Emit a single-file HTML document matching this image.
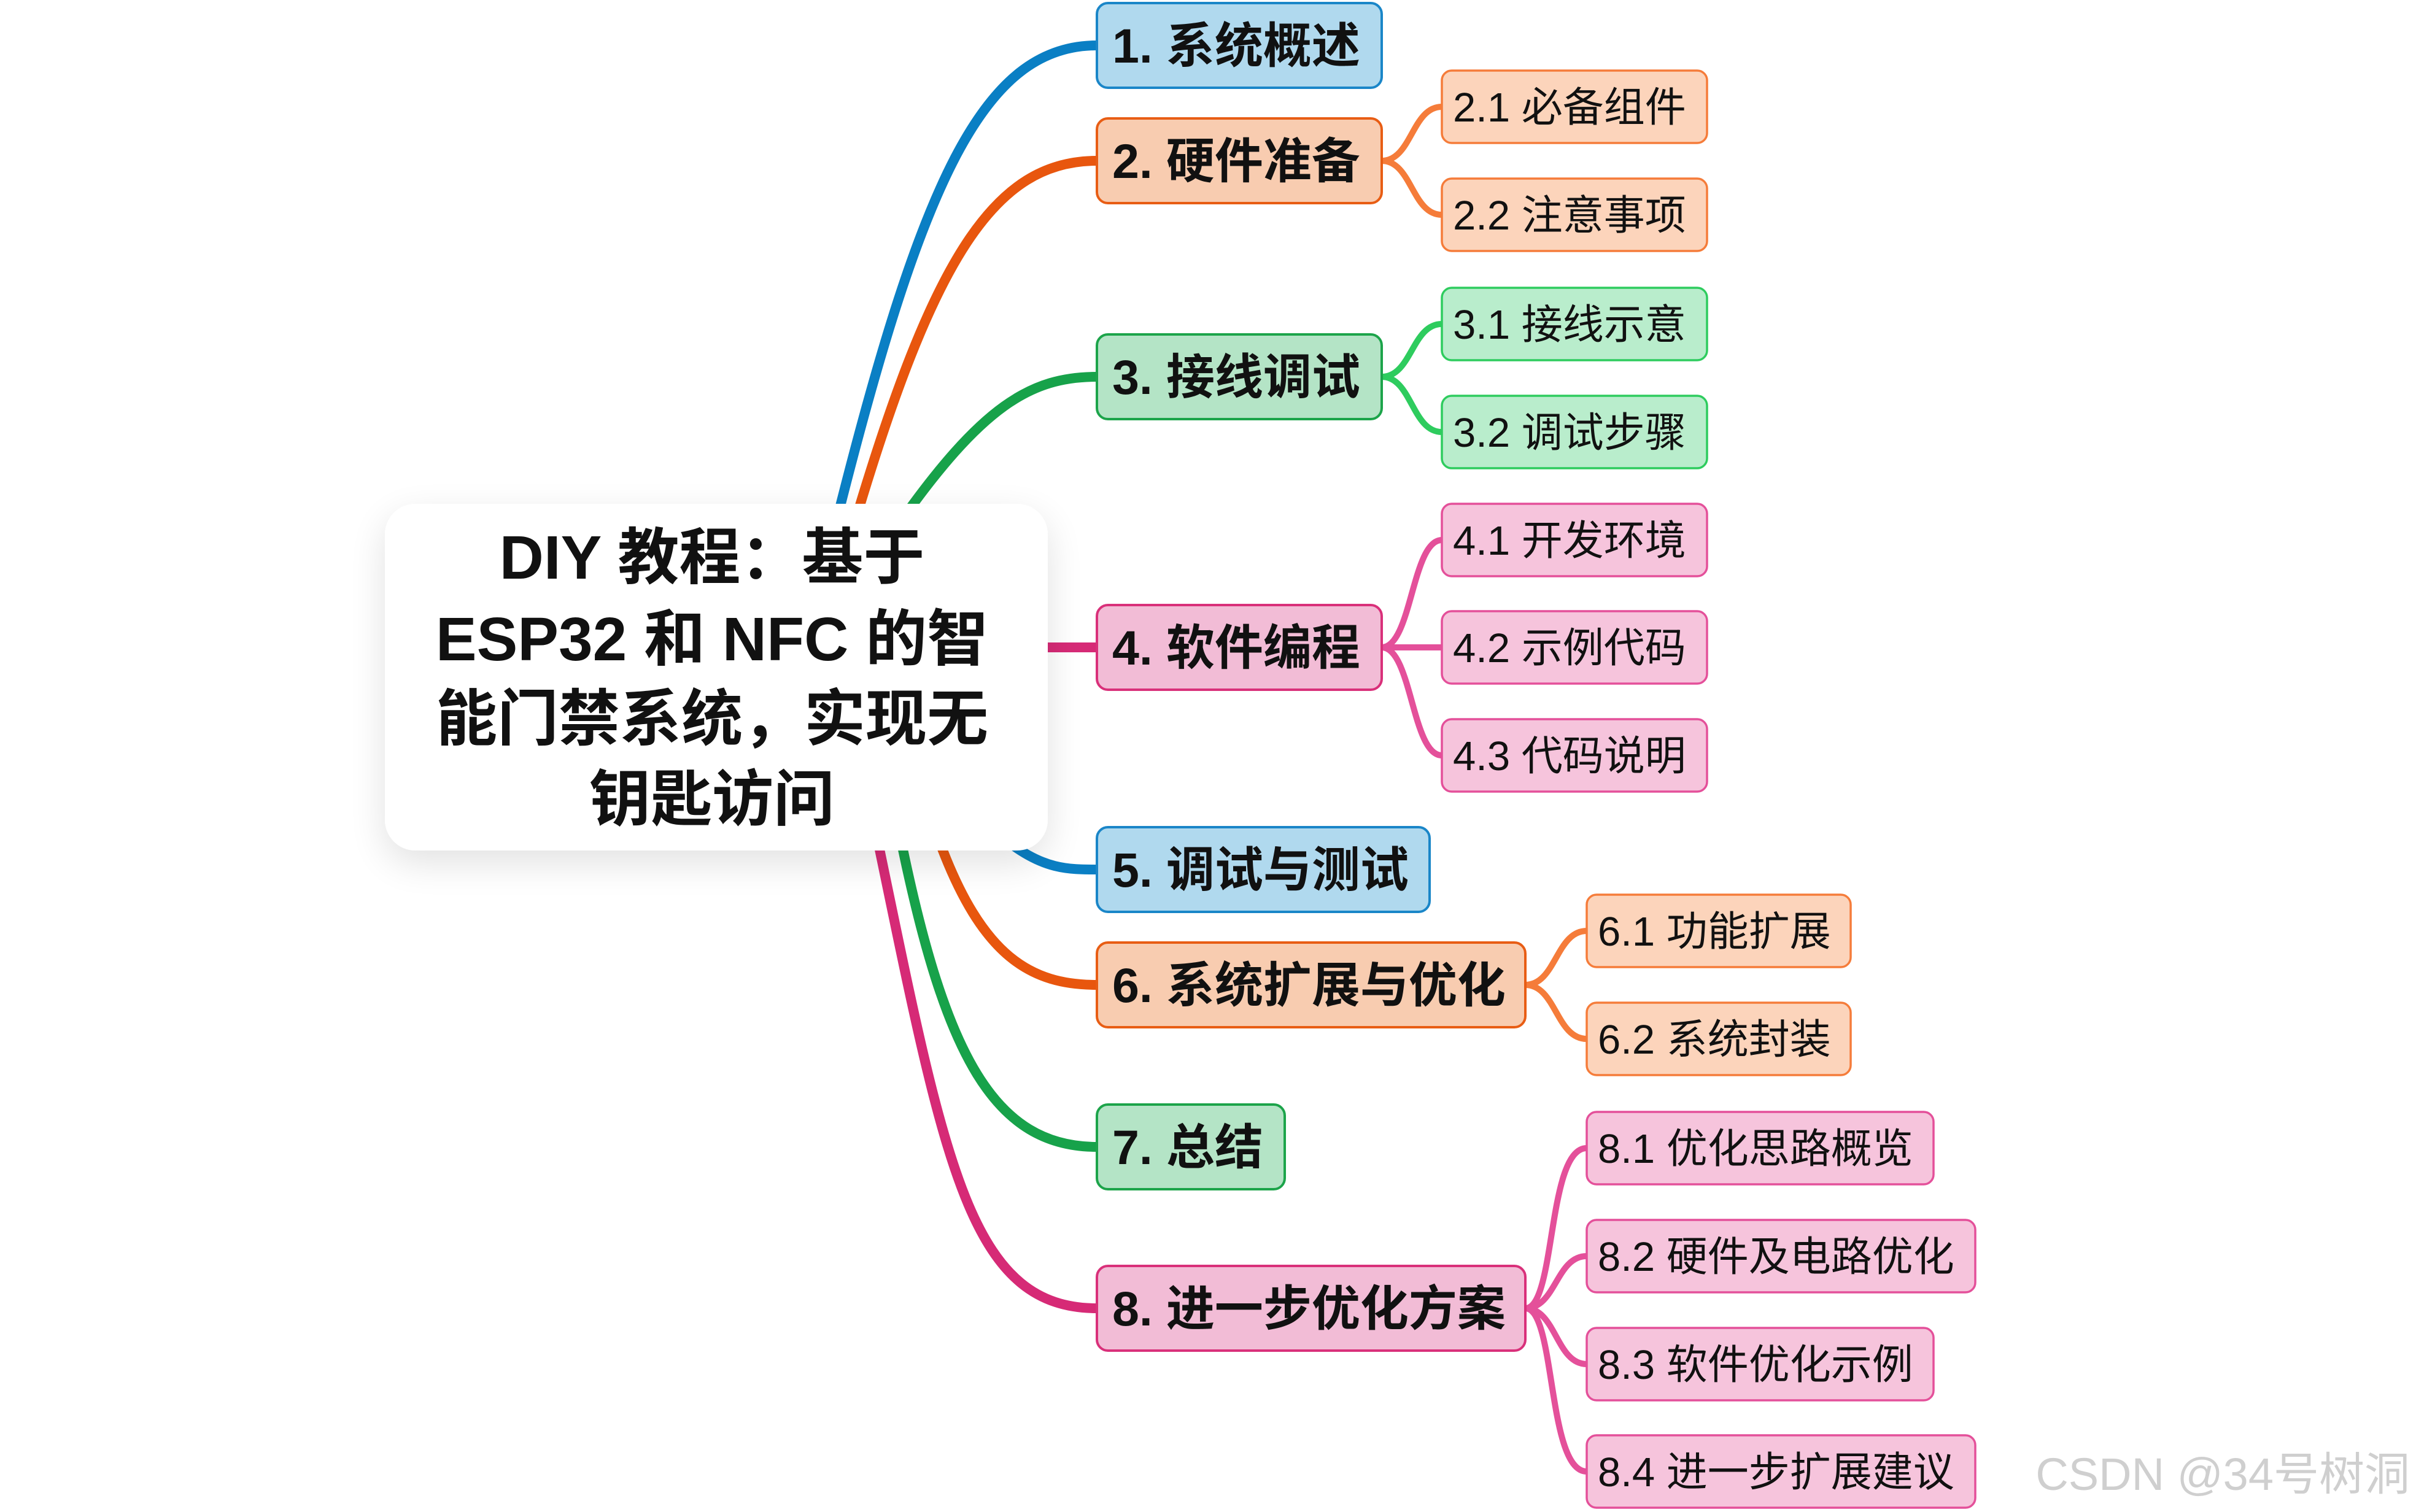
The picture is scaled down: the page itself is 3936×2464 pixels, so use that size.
<!DOCTYPE html>
<html><head><meta charset="utf-8"><style>
html,body{margin:0;padding:0;background:#fff;}
svg{display:block;}
text{font-family:"Liberation Sans","Noto Sans CJK SC",sans-serif;}
.b{font-weight:bold;font-size:79px;fill:#111;}
.s{font-size:67px;fill:#111;}
</style></head><body>
<svg width="3936" height="2464" viewBox="0 0 3936 2464" xmlns="http://www.w3.org/2000/svg">
<defs>
<filter id="sh" x="-20%" y="-20%" width="140%" height="150%"><feGaussianBlur in="SourceAlpha" stdDeviation="30"/><feOffset dy="20"/><feComponentTransfer><feFuncA type="linear" slope="0.12"/></feComponentTransfer><feMerge><feMergeNode/><feMergeNode in="SourceGraphic"/></feMerge></filter>
</defs>
<g fill="none" stroke-linecap="round">
<path d="M1360 860 C1500 300,1600 74,1787 74" stroke="#0a7fc4" stroke-width="16"/>
<path d="M1390 860 C1520 420,1620 262,1787 262" stroke="#e8560e" stroke-width="16"/>
<path d="M1460 860 C1600 660,1680 614,1787 614" stroke="#17a24a" stroke-width="16"/>
<path d="M1690 1055 L1787 1055" stroke="#d62a76" stroke-width="16"/>
<path d="M1640 1370 C1700 1417,1740 1417,1787 1417" stroke="#0a7fc4" stroke-width="16"/>
<path d="M1530 1370 C1600 1560,1680 1605,1787 1605" stroke="#e8560e" stroke-width="16"/>
<path d="M1468 1370 C1540 1720,1620 1869,1787 1869" stroke="#17a24a" stroke-width="16"/>
<path d="M1430 1370 C1540 1900,1580 2132,1787 2132" stroke="#d62a76" stroke-width="16"/>
<g stroke-width="10">
<path d="M2251 262 C2300 262,2300 174,2349 174" stroke="#f57c3a"/>
<path d="M2251 262 C2300 262,2300 350,2349 350" stroke="#f57c3a"/>
<path d="M2251 614 C2300 614,2300 528,2349 528" stroke="#2ecc5e"/>
<path d="M2251 614 C2300 614,2300 704,2349 704" stroke="#2ecc5e"/>
<path d="M2251 1055 C2300 1055,2300 880,2349 880" stroke="#e4509a"/>
<path d="M2251 1055 L2349 1055" stroke="#e4509a"/>
<path d="M2251 1055 C2300 1055,2300 1231,2349 1231" stroke="#e4509a"/>
<path d="M2485 1605 C2535 1605,2535 1517,2585 1517" stroke="#f57c3a"/>
<path d="M2485 1605 C2535 1605,2535 1693,2585 1693" stroke="#f57c3a"/>
<path d="M2485 2132 C2535 2132,2520 1871,2585 1871" stroke="#e4509a"/>
<path d="M2485 2132 C2535 2132,2535 2047,2585 2047" stroke="#e4509a"/>
<path d="M2485 2132 C2535 2132,2535 2223,2585 2223" stroke="#e4509a"/>
<path d="M2485 2132 C2535 2132,2520 2398,2585 2398" stroke="#e4509a"/>
</g>
</g>
<rect x="627" y="821" width="1080" height="565" rx="50" fill="#fff" filter="url(#sh)"/>
<g class="b" text-anchor="middle" style="font-size:100px">
<text x="1160" y="943">DIY 教程：基于</text>
<text x="1160" y="1076">ESP32 和 NFC 的智</text>
<text x="1160" y="1206">能门禁系统，实现无</text>
<text x="1160" y="1337">钥匙访问</text>
</g>
<g stroke-width="4">
<rect x="1787" y="5" width="464" height="138" rx="18" fill="#b0d9ee" stroke="#1a86c8"/>
<rect x="1787" y="193" width="464" height="138" rx="18" fill="#f8ccb0" stroke="#e85d14"/>
<rect x="1787" y="545" width="464" height="138" rx="18" fill="#b4e4c6" stroke="#1ca44a"/>
<rect x="1787" y="986" width="464" height="138" rx="18" fill="#f2bcd6" stroke="#d9307a"/>
<rect x="1787" y="1348" width="542" height="138" rx="18" fill="#b0d9ee" stroke="#1a86c8"/>
<rect x="1787" y="1536" width="698" height="138" rx="18" fill="#f8ccb0" stroke="#e85d14"/>
<rect x="1787" y="1800" width="306" height="138" rx="18" fill="#b4e4c6" stroke="#1ca44a"/>
<rect x="1787" y="2063" width="698" height="138" rx="18" fill="#f2bcd6" stroke="#d9307a"/>
</g>
<g class="b">
<text x="1812" y="102">1. 系统概述</text>
<text x="1812" y="290">2. 硬件准备</text>
<text x="1812" y="642">3. 接线调试</text>
<text x="1812" y="1083">4. 软件编程</text>
<text x="1812" y="1445">5. 调试与测试</text>
<text x="1812" y="1633">6. 系统扩展与优化</text>
<text x="1812" y="1897">7. 总结</text>
<text x="1812" y="2160">8. 进一步优化方案</text>
</g>
<g stroke-width="3.5">
<rect x="2349" y="115" width="432" height="118" rx="16" fill="#fcd4bb" stroke="#f57c3a"/>
<rect x="2349" y="291" width="432" height="118" rx="16" fill="#fcd4bb" stroke="#f57c3a"/>
<rect x="2349" y="469" width="432" height="118" rx="16" fill="#b9edcc" stroke="#2ecc5e"/>
<rect x="2349" y="645" width="432" height="118" rx="16" fill="#b9edcc" stroke="#2ecc5e"/>
<rect x="2349" y="821" width="432" height="118" rx="16" fill="#f6c4dc" stroke="#e4509a"/>
<rect x="2349" y="996" width="432" height="118" rx="16" fill="#f6c4dc" stroke="#e4509a"/>
<rect x="2349" y="1172" width="432" height="118" rx="16" fill="#f6c4dc" stroke="#e4509a"/>
<rect x="2585" y="1458" width="430" height="118" rx="16" fill="#fcd4bb" stroke="#f57c3a"/>
<rect x="2585" y="1634" width="430" height="118" rx="16" fill="#fcd4bb" stroke="#f57c3a"/>
<rect x="2585" y="1812" width="565" height="118" rx="16" fill="#f6c4dc" stroke="#e4509a"/>
<rect x="2585" y="1988" width="633" height="118" rx="16" fill="#f6c4dc" stroke="#e4509a"/>
<rect x="2585" y="2164" width="565" height="118" rx="16" fill="#f6c4dc" stroke="#e4509a"/>
<rect x="2585" y="2339" width="633" height="118" rx="16" fill="#f6c4dc" stroke="#e4509a"/>
</g>
<g class="s">
<text x="2367" y="198">2.1 必备组件</text>
<text x="2367" y="374">2.2 注意事项</text>
<text x="2367" y="552">3.1 接线示意</text>
<text x="2367" y="728">3.2 调试步骤</text>
<text x="2367" y="904">4.1 开发环境</text>
<text x="2367" y="1079">4.2 示例代码</text>
<text x="2367" y="1255">4.3 代码说明</text>
<text x="2603" y="1541">6.1 功能扩展</text>
<text x="2603" y="1717">6.2 系统封装</text>
<text x="2603" y="1895">8.1 优化思路概览</text>
<text x="2603" y="2071">8.2 硬件及电路优化</text>
<text x="2603" y="2247">8.3 软件优化示例</text>
<text x="2603" y="2422">8.4 进一步扩展建议</text>
</g>
<text x="3926" y="2428" text-anchor="end" style="font-size:74px;fill:#cfcfcf;">CSDN @34号树洞</text>
</svg>
</body></html>
